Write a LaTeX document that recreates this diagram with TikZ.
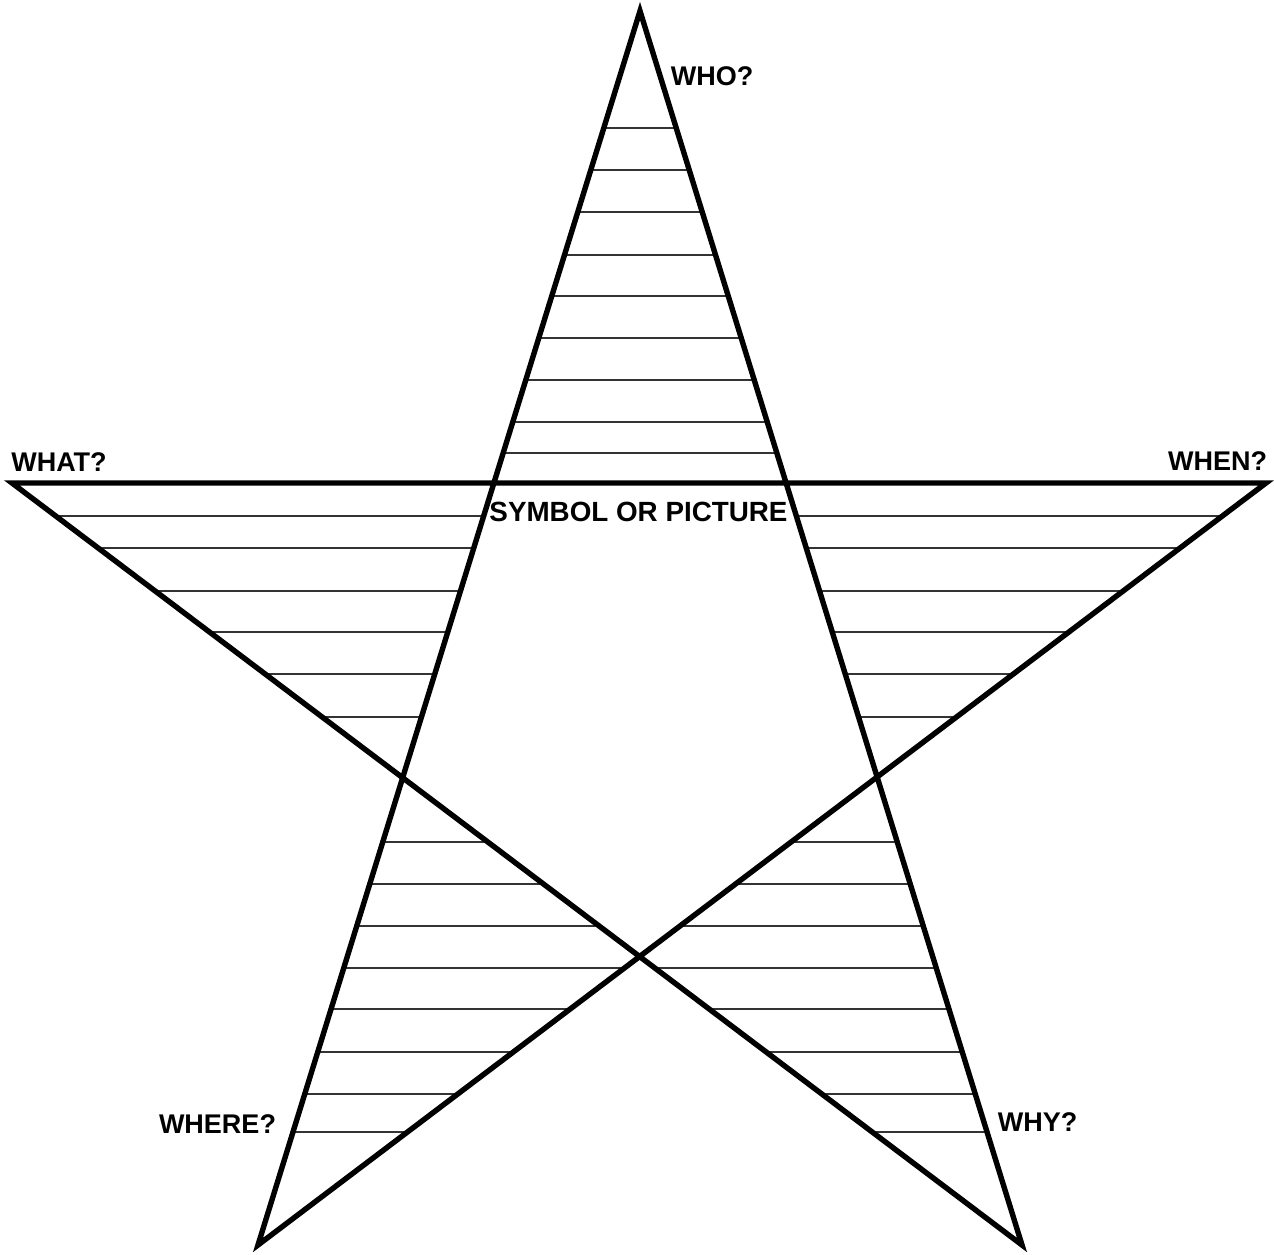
\documentclass[tikz,border=0pt]{standalone}
\usepackage{fontspec}
\setmainfont{Liberation Sans}
\begin{document}
\begin{tikzpicture}[x=0.5pt,y=-0.5pt,
  starline/.style={line width=2.7pt,line join=miter,miter limit=10,black},
  ruleline/.style={line width=0.55pt,black!80},
  lbl/.style={inner sep=0pt,font=\fontsize{13.5pt}{15pt}\selectfont\bfseries,anchor=center}]
\useasboundingbox (0,0) rectangle (1274,1254);
\coordinate (T) at (640,11);
\coordinate (L) at (12,483);
\coordinate (R) at (1266,483);
\coordinate (BL) at (258,1245);
\coordinate (BR) at (1022,1245);
% ruled lines in the five points
\begin{scope}[even odd rule]
  \clip (T) -- (BR) -- (L) -- (R) -- (BL) -- cycle;
  \foreach \yy in {128,170,212,255,296,338,380,422,453,
                   516,548,591,632,674,717,
                   842,884,926,968,1009,1052,1094,1132}
    \draw[ruleline] (0,\yy) -- (1274,\yy);
\end{scope}
% star outline
\draw[starline] (T) -- (BR) -- (L) -- (R) -- (BL) -- cycle;
% labels
\node[lbl] (who) at (712,76.5) {WHO?};
\node[lbl] (what) at (59,462.5) {WHAT?};
\node[lbl] (when) at (1217.5,461.5) {WHEN?};
\node[lbl,font=\fontsize{13.9pt}{15pt}\selectfont\bfseries] (sym) at (638.5,511.5) {SYMBOL OR PICTURE};
\node[lbl] (where) at (217.5,1124.5) {WHERE?};
\node[lbl] (why) at (1037.5,1122) {WHY?};
\end{tikzpicture}
\end{document}
